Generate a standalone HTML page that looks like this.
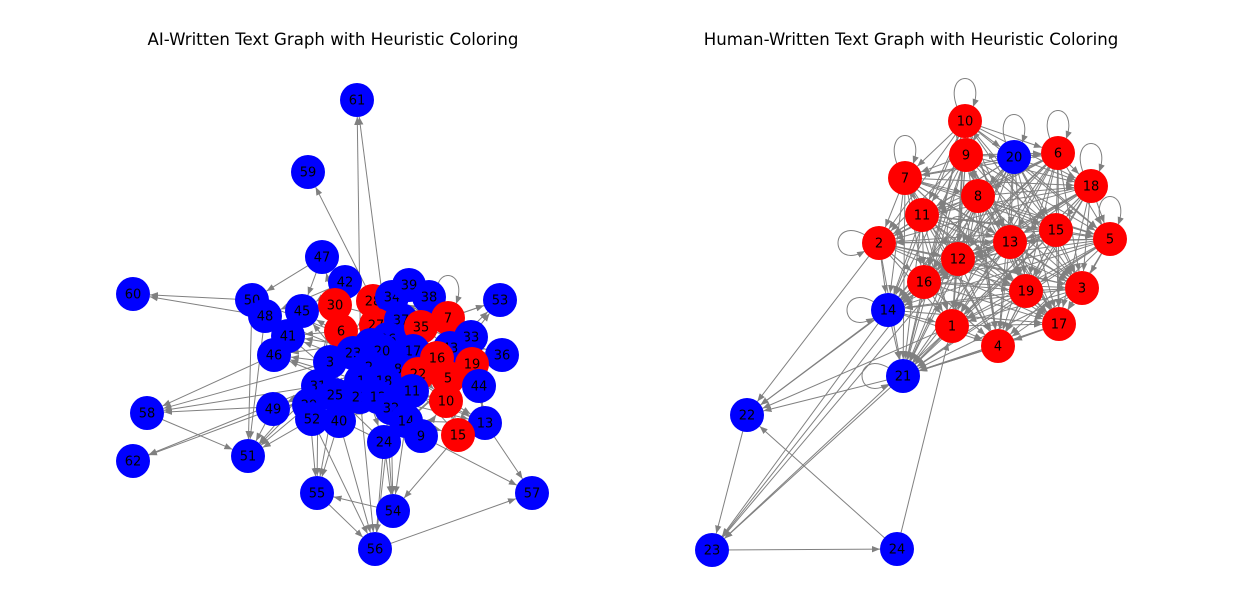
<!DOCTYPE html>
<html><head><meta charset="utf-8"><style>
body{margin:0;background:#fff;}
svg{display:block;font-family:"DejaVu Sans","Liberation Sans",sans-serif;}
</style></head><body>
<svg id="chart" width="1244" height="614" viewBox="0 0 1244 614">
<defs><marker id="arr" viewBox="0 0 10 10" refX="10" refY="5" markerWidth="8" markerHeight="8" markerUnits="userSpaceOnUse" orient="auto"><path d="M0,1 L10,5 L0,9 z" fill="#808080"/></marker></defs>
<text x="333" y="45" text-anchor="middle" font-size="16.6">AI-Written Text Graph with Heuristic Coloring</text>
<text x="911" y="45" text-anchor="middle" font-size="16.6">Human-Written Text Graph with Heuristic Coloring</text>
<g id="edges"></g><g id="nodes"></g>
</svg>
<script>
const leftNodes=[["61",357,100,0],["59",308,172,0],["47",322,257,0],["42",345,282,0],["60",133,294,0],["50",252,300,0],["48",265,316,0],["45",302,311,0],["41",288,336,0],["46",274,355,0],["30",335,305,1],["28",373,301,1],["34",392,297,0],["39",409,285,0],["38",429,297,0],["53",500,300,0],["7",448,318,1],["6",341,331,1],["27",376,325,1],["37",401,320,0],["35",421,327,1],["33",471,337,0],["43",450,348,0],["36",502,355,0],["26",388,339,0],["4",371,345,0],["23",353,353,0],["20",382,351,0],["17",413,351,0],["16",437,358,1],["19",472,364,1],["3",330,362,0],["2",369,367,0],["8",398,369,0],["22",418,374,1],["5",448,378,1],["44",479,386,0],["1",361,381,0],["18",384,381,0],["31",318,386,0],["25",335,395,0],["11",412,391,0],["21",360,397,0],["12",378,397,0],["10",446,401,1],["29",309,405,0],["49",273,409,0],["32",391,408,0],["13",485,423,0],["52",312,419,0],["40",339,421,0],["14",406,421,0],["9",421,436,0],["15",458,435,1],["24",384,442,0],["58",147,413,0],["62",133,461,0],["51",248,456,0],["55",317,493,0],["54",393,511,0],["57",532,493,0],["56",375,549,0]];
const rightNodes=[["10",965,121,1],["9",966,155,1],["20",1014,157,0],["6",1058,153,1],["7",905,178,1],["8",978,196,1],["18",1091,186,1],["11",922,215,1],["15",1056,230,1],["5",1110,239,1],["2",879,243,1],["12",958,259,1],["13",1010,242,1],["16",924,282,1],["19",1026,291,1],["3",1082,288,1],["14",888,310,0],["1",952,326,1],["17",1059,324,1],["4",998,346,1],["21",903,376,0],["22",747,415,0],["23",712,550,0],["24",897,549,0]];
const leftEdges=["1-61","26-61","28-59","48-60","50-60","3-58","31-58","29-58","46-58","31-62","49-62","58-51","48-51","50-51","29-51","52-51","3-51","31-51","49-51","29-55","40-55","25-55","31-55","54-55","32-54","14-54","24-54","18-54","15-54","24-56","32-56","40-56","52-56","21-56","55-56","56-57","13-57","9-57","7-53","33-53","35-53","43-53","19-36","43-36","47-45","47-50","30-47","6-47","42-48","42-45","1-45","2-41","3-46","23-48","4-50","6-41","30-45","1-46","2-49","25-49","31-49","20-41","26-46","8-45","12-46","21-48",
"1-2","2-3","3-4","4-5","5-6","6-7","7-8","8-9","9-10","10-11","11-12","12-13","13-14","14-15","15-16","16-17","17-18","18-19","19-20","20-21","21-22","22-23","23-24","24-25","25-26","26-27","27-28","28-29","29-30","30-31","31-32","32-33","33-34","34-35","35-36","36-37","37-38","38-39","39-40","40-43","43-44","44-1","1-5","2-7","3-8","4-9","5-10","6-11","7-12","8-13","9-14","10-15","11-16","12-17","13-18","14-19","15-20","16-21","17-22","18-23","19-24","20-25","21-26","22-27","23-28","24-29","25-30","26-31","27-32","28-33","29-34","30-35","31-37","32-38","33-39","34-40","35-43","37-44","1-10","2-13","3-16","4-19","5-22","6-25","7-28","8-31","9-34","10-37","11-40","12-43","13-44","16-44","19-33","22-10","5-15","15-13","44-13","7-38","7-39","16-33","35-7"];
const leftLoops=["7"];
const rightCluster=["10","9","20","6","7","8","18","11","15","5","2","12","13","16","19","3","14","1","17","4","21"];
const rightEdges=["21-22","14-22","1-22","2-22","16-22","21-23","14-23","22-23","1-23","12-23","16-23","23-24","24-22","24-1","4-21","17-21"];
const rightLoops=[["10",0],["9",0],["6",0],["7",0],["18",0],["5",0],["2",1],["14",1],["21",1],["20",0],["12",0]];
const NS="http://www.w3.org/2000/svg",R=17;
const eg=document.getElementById('edges'),ng=document.getElementById('nodes');
function map(list){const m={};list.forEach(n=>m[n[0]]=n);return m;}
const LM=map(leftNodes),RM=map(rightNodes);
function edge(a,b){const dx=b[1]-a[1],dy=b[2]-a[2],d=Math.hypot(dx,dy);if(d<1)return;
const l=document.createElementNS(NS,'line');
l.setAttribute('x1',a[1]+dx/d*R*0.3);l.setAttribute('y1',a[2]+dy/d*R*0.3);
l.setAttribute('x2',b[1]-dx/d*R);l.setAttribute('y2',b[2]-dy/d*R);
l.setAttribute('stroke','#808080');l.setAttribute('stroke-width','1');l.setAttribute('marker-end','url(#arr)');


eg.appendChild(l);}
function loop(n,side){const p=document.createElementNS(NS,'path');const x=n[1],y=n[2];
const d=side?`M${x-14},${y-8} C${x-50},${y-28} ${x-50},${y+28} ${x-14},${y+8}`:`M${x-8},${y-14} C${x-22},${y-52} ${x+22},${y-52} ${x+8},${y-14}`;
p.setAttribute('d',d);p.setAttribute('fill','none');p.setAttribute('stroke','#808080');p.setAttribute('marker-end','url(#arr)');


eg.appendChild(p);}
leftEdges.forEach(e=>{const[a,b]=e.split('-');if(LM[a]&&LM[b])edge(LM[a],LM[b]);});
leftLoops.forEach(k=>loop(LM[k],0));
for(let i=0;i<rightCluster.length;i++)for(let j=i+1;j<rightCluster.length;j++){edge(RM[rightCluster[i]],RM[rightCluster[j]]);}
rightEdges.forEach(e=>{const[a,b]=e.split('-');edge(RM[a],RM[b]);});
rightLoops.forEach(k=>loop(RM[k[0]],k[1]));
function node(n,side){const g=document.createElementNS(NS,'g');


const c=document.createElementNS(NS,'circle');c.setAttribute('cx',n[1]);c.setAttribute('cy',n[2]);c.setAttribute('r',R);c.setAttribute('fill',n[3]?'#ff0000':'#0000ff');
const t=document.createElementNS(NS,'text');t.setAttribute('x',n[1]);t.setAttribute('y',n[2]+4.5);t.setAttribute('text-anchor','middle');t.setAttribute('font-size','13');t.textContent=n[0];
g.appendChild(c);g.appendChild(t);ng.appendChild(g);}
leftNodes.forEach(n=>node(n,'ai'));rightNodes.forEach(n=>node(n,'human'));
</script>
</body></html>
